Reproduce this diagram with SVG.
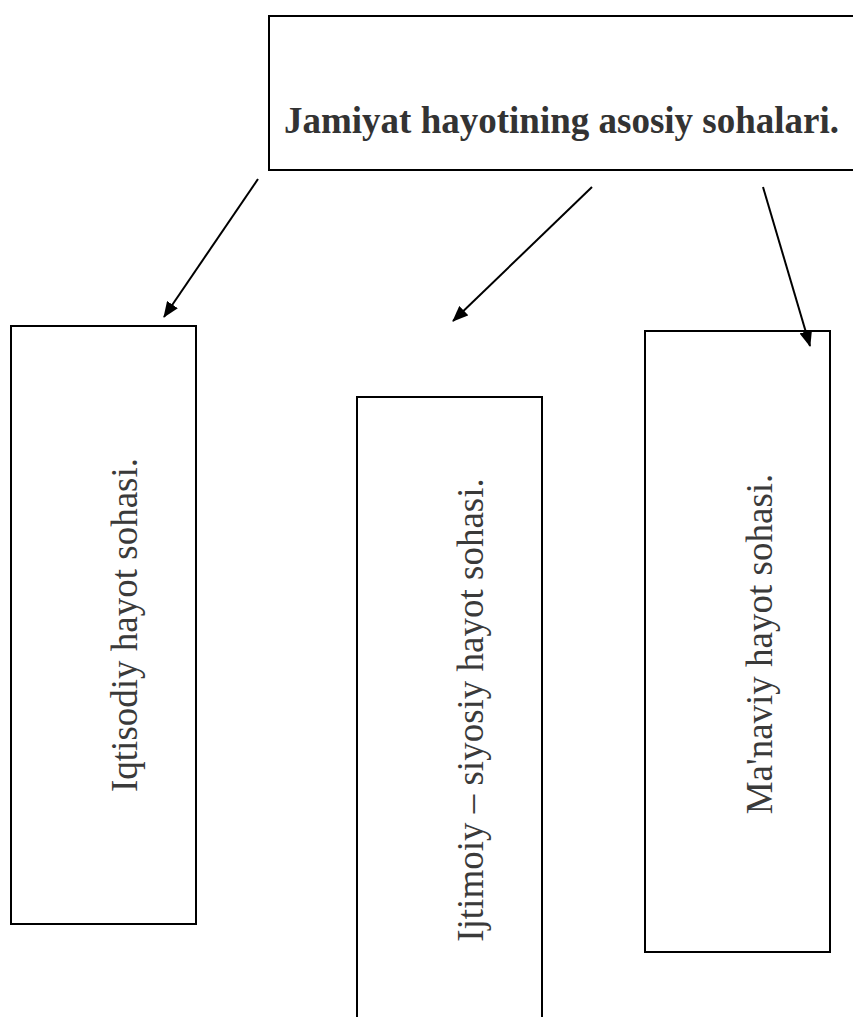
<svg xmlns="http://www.w3.org/2000/svg" width="853" height="1017" viewBox="0 0 853 1017">
<style>
.box{fill:#fff;stroke:#000;stroke-width:2}
.title{font-family:"Liberation Serif","Times New Roman",serif;font-weight:bold;font-size:37px;fill:#333}
.lbl{font-family:"Liberation Serif","Times New Roman",serif;font-size:37px;fill:#3a3a3a;text-anchor:middle}
.conn{stroke:#000;stroke-width:2;fill:none;marker-end:url(#ah)}
</style>
<defs>
<marker id="ah" markerUnits="userSpaceOnUse" markerWidth="16" markerHeight="13" refX="15" refY="6.5" orient="auto">
<path d="M0,0 L16,6.5 L0,13 z" fill="#000"/>
</marker>
</defs>
<rect width="853" height="1017" fill="#fff"/>
<g id="top">
<rect class="box" x="269" y="16" width="600" height="154"/>
<text class="title" x="284" y="133">Jamiyat hayotining asosiy sohalari.</text>
</g>
<g id="iqtisodiy">
<rect class="box" x="11" y="326" width="185" height="598"/>
<text class="lbl" transform="translate(137,625) rotate(-90)">Iqtisodiy hayot sohasi.</text>
</g>
<g id="ijtimoiy">
<rect class="box" x="357" y="397" width="185" height="640"/>
<text class="lbl" transform="translate(483,710) rotate(-90)">Ijtimoiy – siyosiy hayot sohasi.</text>
</g>
<g id="manaviy">
<rect class="box" x="645" y="331" width="185" height="621"/>
<text class="lbl" transform="translate(772,644) rotate(-90)">Ma'naviy hayot sohasi.</text>
</g>
<g id="connectors">
<line class="conn" x1="258" y1="179" x2="164" y2="317"/>
<line class="conn" x1="592" y1="187" x2="453" y2="321"/>
<line class="conn" x1="763" y1="187" x2="810" y2="346"/>
</g>
</svg>
